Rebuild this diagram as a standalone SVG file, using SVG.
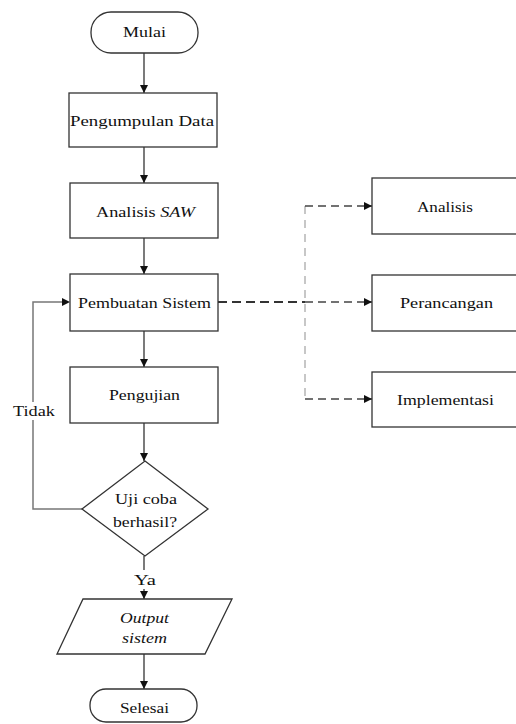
<svg xmlns="http://www.w3.org/2000/svg" width="516" height="724" viewBox="0 0 516 724">
<style>
.s{fill:#fff;stroke:#333;stroke-width:1.3}
.t{font-family:'Liberation Serif','Times New Roman','DejaVu Serif',serif;font-size:15px;fill:#111;text-anchor:middle}
.i{font-style:italic}
.c{fill:none;stroke:#222;stroke-width:1.2}
.g{fill:none;stroke:#777;stroke-width:1.5}
.d{fill:none;stroke:#444;stroke-width:1.3;stroke-dasharray:8 5}
.dk{fill:none;stroke:#333;stroke-width:2.2;stroke-dasharray:9 5}
.dv{fill:none;stroke:#aaa;stroke-width:1.3;stroke-dasharray:8 6}
</style>
<defs>
<marker id="a" viewBox="0 0 10 10" refX="10" refY="5" markerWidth="8" markerHeight="8" markerUnits="userSpaceOnUse" orient="auto"><path d="M0,0L10,5L0,10z" fill="#111"/></marker>
</defs>
<rect width="516" height="724" fill="#fff"/>
<g id="connectors">
<path class="c" d="M144,53V93" marker-end="url(#a)"/>
<path class="c" d="M144,147V183" marker-end="url(#a)"/>
<path class="c" d="M144,238V274" marker-end="url(#a)"/>
<path class="c" d="M144,331V367" marker-end="url(#a)"/>
<path class="c" d="M144,423V461" marker-end="url(#a)"/>
<path class="c" d="M144,556V599" marker-end="url(#a)"/>
<path class="c" d="M144,654V689" marker-end="url(#a)"/>
<path class="g" d="M82,509H33V302H62"/>
<path d="M62,298L70,302L62,306z" fill="#111"/>
<path class="dk" d="M218,302H305"/>
<path class="dv" d="M305,206V399"/>
<path class="d" d="M305,302H372" marker-end="url(#a)"/>
<path class="d" d="M305,206H372" marker-end="url(#a)"/>
<path class="d" d="M305,399H372" marker-end="url(#a)"/>
<g id="label-tidak"><rect x="12" y="402" width="44" height="18" fill="#fff"/><text class="t" x="34" y="416" textLength="42" lengthAdjust="spacingAndGlyphs">Tidak</text></g>
<g id="label-ya"><rect x="133" y="570" width="24" height="19" fill="#fff"/><text class="t" x="145" y="585" textLength="22" lengthAdjust="spacingAndGlyphs">Ya</text></g>
</g>
<g id="mulai"><rect class="s" x="91" y="12" width="107" height="41" rx="20"/><text class="t" x="144.5" y="37" textLength="43" lengthAdjust="spacingAndGlyphs">Mulai</text></g>
<g id="pengumpulan"><rect class="s" x="69" y="93" width="148" height="54"/><text class="t" x="142" y="126" textLength="144" lengthAdjust="spacingAndGlyphs">Pengumpulan Data</text></g>
<g id="analisis-saw"><rect class="s" x="70" y="183" width="148" height="55"/><text class="t" x="145.5" y="217" textLength="99" lengthAdjust="spacingAndGlyphs">Analisis <tspan class="i">SAW</tspan></text></g>
<g id="pembuatan"><rect class="s" x="70" y="274" width="148" height="57"/><text class="t" x="144.5" y="308" textLength="133" lengthAdjust="spacingAndGlyphs">Pembuatan Sistem</text></g>
<g id="pengujian"><rect class="s" x="70" y="367" width="148" height="56"/><text class="t" x="144.5" y="400" textLength="71" lengthAdjust="spacingAndGlyphs">Pengujian</text></g>
<g id="uji"><path class="s" d="M145,461L208,509L145,556L82,509z"/><text class="t" x="146" y="504" textLength="62" lengthAdjust="spacingAndGlyphs">Uji coba</text><text class="t" x="145" y="527" textLength="64" lengthAdjust="spacingAndGlyphs">berhasil?</text></g>
<g id="output"><path class="s" d="M83,599H232L205,654H57z"/><text class="t i" x="144.5" y="623" textLength="49" lengthAdjust="spacingAndGlyphs">Output</text><text class="t i" x="144.5" y="643" textLength="45" lengthAdjust="spacingAndGlyphs">sistem</text></g>
<g id="selesai"><rect class="s" x="90" y="689" width="107" height="33" rx="16"/><text class="t" x="144.5" y="713" textLength="49" lengthAdjust="spacingAndGlyphs">Selesai</text></g>
<g id="analisis"><rect class="s" x="372" y="178" width="150" height="56"/><text class="t" x="445" y="212" textLength="56" lengthAdjust="spacingAndGlyphs">Analisis</text></g>
<g id="perancangan"><rect class="s" x="372" y="275" width="150" height="56"/><text class="t" x="446.5" y="308" textLength="93" lengthAdjust="spacingAndGlyphs">Perancangan</text></g>
<g id="implementasi"><rect class="s" x="372" y="372" width="150" height="55"/><text class="t" x="445.5" y="405" textLength="97" lengthAdjust="spacingAndGlyphs">Implementasi</text></g>
</svg>
